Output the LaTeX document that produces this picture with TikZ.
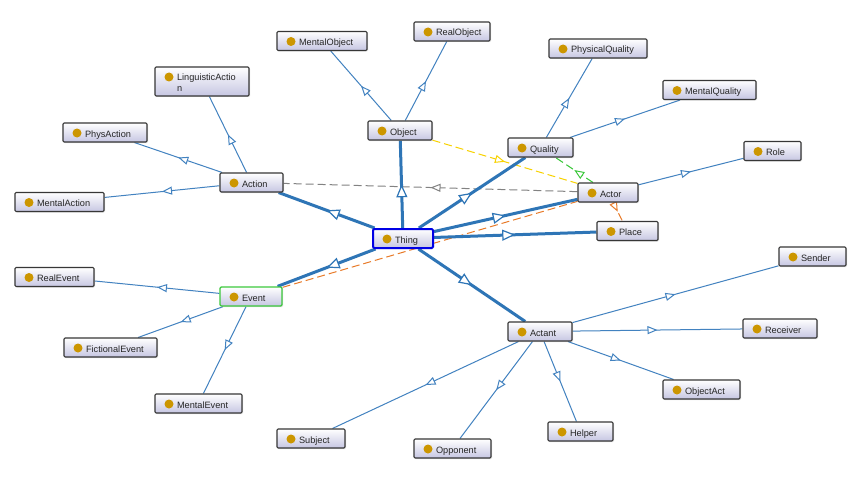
\documentclass[tikz,border=0pt]{standalone}
\usepackage{fontspec}
\setmainfont{Liberation Sans}
\usetikzlibrary{arrows.meta,decorations.markings,shadows,backgrounds}

\definecolor{thickc}{RGB}{46,117,182}
\definecolor{thinc}{RGB}{66,130,192}
\definecolor{boxfill}{RGB}{198,198,226}
\definecolor{boxline}{RGB}{55,55,55}
\definecolor{dotc}{RGB}{204,150,0}
\definecolor{yel}{RGB}{248,210,0}
\definecolor{grn}{RGB}{60,200,60}
\definecolor{org}{RGB}{232,122,40}
\definecolor{gry}{RGB}{130,130,130}

\tikzset{
  cls/.style={draw=boxline, line width=1.1pt, rounded corners=1.2pt,
    top color=white, bottom color=boxfill,
    drop shadow={opacity=0.25, shadow xshift=1pt, shadow yshift=-1pt},
    text width=#1, inner xsep=0pt, inner ysep=0pt,
    text height=14pt, text depth=5pt, text=black!85,
    align=left, font=\fontsize{9.2}{11}\selectfont,
    execute at begin node=\hspace*{22pt},
    path picture={\fill[dotc] ([xshift=14pt,yshift=-10pt]path picture bounding box.north west) circle (4.5pt);}},
  midtip/.style={postaction={decorate},
    decoration={markings, mark=at position 0.5 with {\arrow{#1}}}},
  thingedge/.style={draw=thickc, line width=3pt,
    midtip={Triangle[length=13pt, width=11pt, line width=1.2pt, fill=white, color=thickc]}},
  subedge/.style={draw=thinc, line width=1pt,
    midtip={Triangle[length=10pt, width=8pt, line width=1pt, fill=white, color=thinc]}},
  propedge/.style={draw=#1, line width=1pt, dash pattern=on 8pt off 4pt,
    midtip={Triangle[length=10pt, width=8pt, line width=1pt, fill=white, color=#1]}}
}

\begin{document}
\begin{tikzpicture}[x=1pt, y=-1pt]
    \useasboundingbox (0,0) rectangle (850,476);

    % classes
    \node[cls=60pt, draw=blue!90!black, line width=2pt] (thing) at (403,238.5) {Thing};

    \node[cls=64pt] (object) at (400,130.5) {Object};
    \node[cls=90pt] (mentalobject) at (322,41) {MentalObject};
    \node[cls=76pt] (realobject) at (452,31.5) {RealObject};

    \node[cls=65pt] (quality) at (540.5,147.5) {Quality};
    \node[cls=98pt] (physquality) at (598,48.5) {PhysicalQuality};
    \node[cls=93pt] (mentalquality) at (709.5,90) {MentalQuality};

    \node[cls=60pt] (actor) at (608,192.5) {Actor};
    \node[cls=57pt] (role) at (772.5,151) {Role};
    \node[cls=61pt] (place) at (627.5,231) {Place};

    \node[cls=63pt] (action) at (251.5,182.5) {Action};
    \node[cls=94pt, text depth=15pt] (lingaction) at (202,81.5) {LinguisticActio\\\hspace*{22pt}n};
    \node[cls=84pt] (physaction) at (105,132.5) {PhysAction};
    \node[cls=89pt] (mentalaction) at (59.5,202) {MentalAction};

    \node[cls=62pt, draw=grn, line width=1.3pt] (event) at (251,296.5) {Event};
    \node[cls=79pt] (realevent) at (54.5,277) {RealEvent};
    \node[cls=93pt] (fictevent) at (110.5,347.5) {FictionalEvent};
    \node[cls=87pt] (mentalevent) at (198.5,403.5) {MentalEvent};

    \node[cls=64pt] (actant) at (540,331.5) {Actant};
    \node[cls=67pt] (sender) at (812.5,256.5) {Sender};
    \node[cls=74pt] (receiver) at (780,328.5) {Receiver};
    \node[cls=77pt] (objectact) at (701.5,389.5) {ObjectAct};
    \node[cls=65pt] (helper) at (580.5,431.5) {Helper};
    \node[cls=77pt] (opponent) at (452.5,448.5) {Opponent};
    \node[cls=68pt] (subject) at (311,438.5) {Subject};

    \begin{scope}[on background layer]
        \fill[white] (0,0) rectangle (850,476);

        % properties
        \draw[draw=org, line width=1pt, dash pattern=on 8pt off 4pt] (event) -- (actor);
        \draw[propedge=yel] (object) -- (actor);
        \draw[propedge=gry] (actor) -- (action);
        \draw[propedge=grn] (actor) -- (quality);
        \draw[propedge=org] (actor) -- (place);

        % top level
        \foreach \c in {object,quality,actor,place,action,event,actant}
            \draw[thingedge] (thing) -- (\c);

        % subclasses
        \draw[subedge] (object) -- (mentalobject);
        \draw[subedge] (object) -- (realobject);
        \draw[subedge] (quality) -- (physquality);
        \draw[subedge] (quality) -- (mentalquality);
        \draw[subedge] (actor) -- (role);
        \foreach \c in {lingaction,physaction,mentalaction}
            \draw[subedge] (action) -- (\c);
        \foreach \c in {realevent,fictevent,mentalevent}
            \draw[subedge] (event) -- (\c);
        \foreach \c in {sender,receiver,objectact,helper,opponent,subject}
            \draw[subedge] (actant) -- (\c);
    \end{scope}
\end{tikzpicture}
\end{document}
